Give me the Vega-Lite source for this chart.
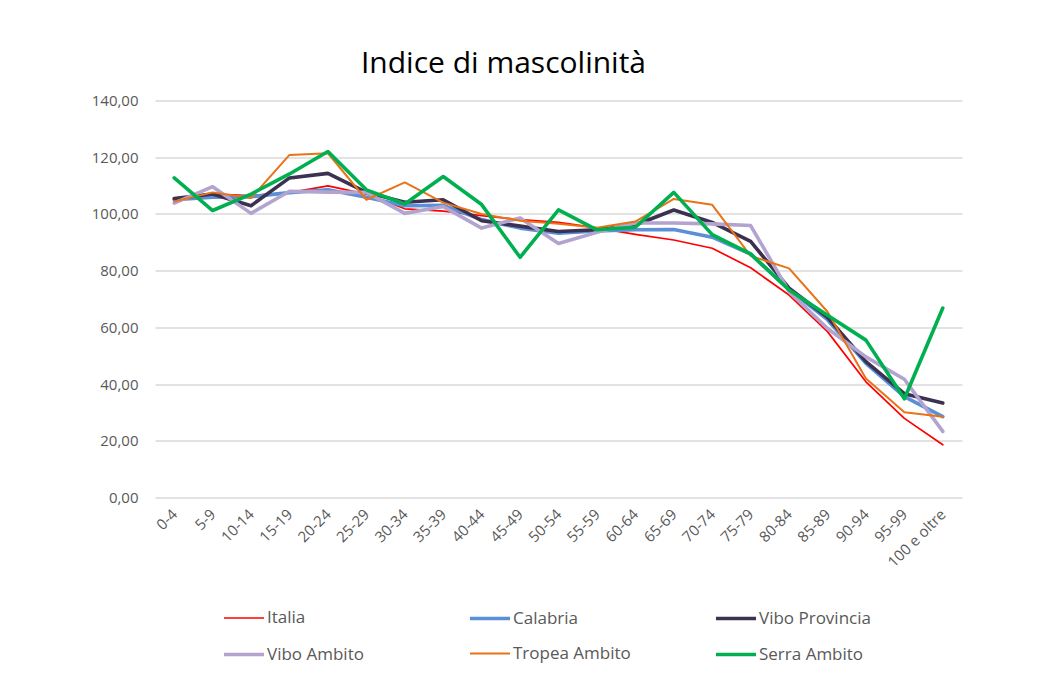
{
  "$schema": "https://vega.github.io/schema/vega-lite/v6.json",
  "autosize": {"type": "none"},
  "padding": {"left": 155, "top": 100.5, "right": 87, "bottom": 175},
  "width": 807,
  "height": 397,
  "background": "white",
  "title": {
    "text": "Indice di mascolinità",
    "font": "Open Sans",
    "fontSize": 30,
    "fontWeight": "normal",
    "color": "#000000",
    "anchor": "middle",
    "frame": "group",
    "dx": -55,
    "offset": 15
  },
  "config": {
    "view": {"stroke": null},
    "font": "Open Sans"
  },
  "datasets": {
    "d": [
      {"eta": "0-4", "serie": "Italia", "valore": 105.0},
      {"eta": "5-9", "serie": "Italia", "valore": 107.0},
      {"eta": "10-14", "serie": "Italia", "valore": 106.5},
      {"eta": "15-19", "serie": "Italia", "valore": 107.5},
      {"eta": "20-24", "serie": "Italia", "valore": 109.9},
      {"eta": "25-29", "serie": "Italia", "valore": 107.0},
      {"eta": "30-34", "serie": "Italia", "valore": 101.8},
      {"eta": "35-39", "serie": "Italia", "valore": 101.0},
      {"eta": "40-44", "serie": "Italia", "valore": 99.4},
      {"eta": "45-49", "serie": "Italia", "valore": 98.0},
      {"eta": "50-54", "serie": "Italia", "valore": 97.0},
      {"eta": "55-59", "serie": "Italia", "valore": 95.1},
      {"eta": "60-64", "serie": "Italia", "valore": 92.8},
      {"eta": "65-69", "serie": "Italia", "valore": 90.8},
      {"eta": "70-74", "serie": "Italia", "valore": 87.9},
      {"eta": "75-79", "serie": "Italia", "valore": 81.0},
      {"eta": "80-84", "serie": "Italia", "valore": 71.4},
      {"eta": "85-89", "serie": "Italia", "valore": 58.5},
      {"eta": "90-94", "serie": "Italia", "valore": 40.8},
      {"eta": "95-99", "serie": "Italia", "valore": 27.9},
      {"eta": "100 e oltre", "serie": "Italia", "valore": 18.6},

      {"eta": "0-4", "serie": "Calabria", "valore": 105.0},
      {"eta": "5-9", "serie": "Calabria", "valore": 105.9},
      {"eta": "10-14", "serie": "Calabria", "valore": 106.1},
      {"eta": "15-19", "serie": "Calabria", "valore": 107.5},
      {"eta": "20-24", "serie": "Calabria", "valore": 108.5},
      {"eta": "25-29", "serie": "Calabria", "valore": 105.9},
      {"eta": "30-34", "serie": "Calabria", "valore": 102.9},
      {"eta": "35-39", "serie": "Calabria", "valore": 103.0},
      {"eta": "40-44", "serie": "Calabria", "valore": 98.0},
      {"eta": "45-49", "serie": "Calabria", "valore": 95.0},
      {"eta": "50-54", "serie": "Calabria", "valore": 93.2},
      {"eta": "55-59", "serie": "Calabria", "valore": 94.0},
      {"eta": "60-64", "serie": "Calabria", "valore": 94.4},
      {"eta": "65-69", "serie": "Calabria", "valore": 94.5},
      {"eta": "70-74", "serie": "Calabria", "valore": 91.8},
      {"eta": "75-79", "serie": "Calabria", "valore": 85.8},
      {"eta": "80-84", "serie": "Calabria", "valore": 73.3},
      {"eta": "85-89", "serie": "Calabria", "valore": 62.7},
      {"eta": "90-94", "serie": "Calabria", "valore": 47.3},
      {"eta": "95-99", "serie": "Calabria", "valore": 35.6},
      {"eta": "100 e oltre", "serie": "Calabria", "valore": 28.5},

      {"eta": "0-4", "serie": "Vibo Provincia", "valore": 105.4},
      {"eta": "5-9", "serie": "Vibo Provincia", "valore": 107.0},
      {"eta": "10-14", "serie": "Vibo Provincia", "valore": 102.9},
      {"eta": "15-19", "serie": "Vibo Provincia", "valore": 112.7},
      {"eta": "20-24", "serie": "Vibo Provincia", "valore": 114.3},
      {"eta": "25-29", "serie": "Vibo Provincia", "valore": 107.6},
      {"eta": "30-34", "serie": "Vibo Provincia", "valore": 104.1},
      {"eta": "35-39", "serie": "Vibo Provincia", "valore": 105.0},
      {"eta": "40-44", "serie": "Vibo Provincia", "valore": 97.6},
      {"eta": "45-49", "serie": "Vibo Provincia", "valore": 95.7},
      {"eta": "50-54", "serie": "Vibo Provincia", "valore": 93.8},
      {"eta": "55-59", "serie": "Vibo Provincia", "valore": 94.4},
      {"eta": "60-64", "serie": "Vibo Provincia", "valore": 96.1},
      {"eta": "65-69", "serie": "Vibo Provincia", "valore": 101.4},
      {"eta": "70-74", "serie": "Vibo Provincia", "valore": 97.0},
      {"eta": "75-79", "serie": "Vibo Provincia", "valore": 90.3},
      {"eta": "80-84", "serie": "Vibo Provincia", "valore": 73.8},
      {"eta": "85-89", "serie": "Vibo Provincia", "valore": 63.5},
      {"eta": "90-94", "serie": "Vibo Provincia", "valore": 47.9},
      {"eta": "95-99", "serie": "Vibo Provincia", "valore": 36.6},
      {"eta": "100 e oltre", "serie": "Vibo Provincia", "valore": 33.3},

      {"eta": "0-4", "serie": "Vibo Ambito", "valore": 103.8},
      {"eta": "5-9", "serie": "Vibo Ambito", "valore": 109.6},
      {"eta": "10-14", "serie": "Vibo Ambito", "valore": 100.2},
      {"eta": "15-19", "serie": "Vibo Ambito", "valore": 108.0},
      {"eta": "20-24", "serie": "Vibo Ambito", "valore": 107.7},
      {"eta": "25-29", "serie": "Vibo Ambito", "valore": 107.6},
      {"eta": "30-34", "serie": "Vibo Ambito", "valore": 100.2},
      {"eta": "35-39", "serie": "Vibo Ambito", "valore": 102.6},
      {"eta": "40-44", "serie": "Vibo Ambito", "valore": 95.0},
      {"eta": "45-49", "serie": "Vibo Ambito", "valore": 98.6},
      {"eta": "50-54", "serie": "Vibo Ambito", "valore": 89.6},
      {"eta": "55-59", "serie": "Vibo Ambito", "valore": 93.5},
      {"eta": "60-64", "serie": "Vibo Ambito", "valore": 96.8},
      {"eta": "65-69", "serie": "Vibo Ambito", "valore": 96.8},
      {"eta": "70-74", "serie": "Vibo Ambito", "valore": 96.5},
      {"eta": "75-79", "serie": "Vibo Ambito", "valore": 95.9},
      {"eta": "80-84", "serie": "Vibo Ambito", "valore": 72.6},
      {"eta": "85-89", "serie": "Vibo Ambito", "valore": 59.6},
      {"eta": "90-94", "serie": "Vibo Ambito", "valore": 49.6},
      {"eta": "95-99", "serie": "Vibo Ambito", "valore": 41.7},
      {"eta": "100 e oltre", "serie": "Vibo Ambito", "valore": 23.3},

      {"eta": "0-4", "serie": "Tropea Ambito", "valore": 104.4},
      {"eta": "5-9", "serie": "Tropea Ambito", "valore": 107.6},
      {"eta": "10-14", "serie": "Tropea Ambito", "valore": 105.6},
      {"eta": "15-19", "serie": "Tropea Ambito", "valore": 120.8},
      {"eta": "20-24", "serie": "Tropea Ambito", "valore": 121.4},
      {"eta": "25-29", "serie": "Tropea Ambito", "valore": 105.0},
      {"eta": "30-34", "serie": "Tropea Ambito", "valore": 111.1},
      {"eta": "35-39", "serie": "Tropea Ambito", "valore": 104.0},
      {"eta": "40-44", "serie": "Tropea Ambito", "valore": 100.0},
      {"eta": "45-49", "serie": "Tropea Ambito", "valore": 97.6},
      {"eta": "50-54", "serie": "Tropea Ambito", "valore": 96.5},
      {"eta": "55-59", "serie": "Tropea Ambito", "valore": 95.1},
      {"eta": "60-64", "serie": "Tropea Ambito", "valore": 97.3},
      {"eta": "65-69", "serie": "Tropea Ambito", "valore": 105.3},
      {"eta": "70-74", "serie": "Tropea Ambito", "valore": 103.2},
      {"eta": "75-79", "serie": "Tropea Ambito", "valore": 85.2},
      {"eta": "80-84", "serie": "Tropea Ambito", "valore": 80.8},
      {"eta": "85-89", "serie": "Tropea Ambito", "valore": 65.5},
      {"eta": "90-94", "serie": "Tropea Ambito", "valore": 42.0},
      {"eta": "95-99", "serie": "Tropea Ambito", "valore": 30.1},
      {"eta": "100 e oltre", "serie": "Tropea Ambito", "valore": 28.5},

      {"eta": "0-4", "serie": "Serra Ambito", "valore": 112.7},
      {"eta": "5-9", "serie": "Serra Ambito", "valore": 101.2},
      {"eta": "10-14", "serie": "Serra Ambito", "valore": 107.0},
      {"eta": "15-19", "serie": "Serra Ambito", "valore": 114.1},
      {"eta": "20-24", "serie": "Serra Ambito", "valore": 122.0},
      {"eta": "25-29", "serie": "Serra Ambito", "valore": 108.5},
      {"eta": "30-34", "serie": "Serra Ambito", "valore": 103.5},
      {"eta": "35-39", "serie": "Serra Ambito", "valore": 113.2},
      {"eta": "40-44", "serie": "Serra Ambito", "valore": 103.3},
      {"eta": "45-49", "serie": "Serra Ambito", "valore": 84.7},
      {"eta": "50-54", "serie": "Serra Ambito", "valore": 101.4},
      {"eta": "55-59", "serie": "Serra Ambito", "valore": 94.4},
      {"eta": "60-64", "serie": "Serra Ambito", "valore": 95.3},
      {"eta": "65-69", "serie": "Serra Ambito", "valore": 107.6},
      {"eta": "70-74", "serie": "Serra Ambito", "valore": 92.7},
      {"eta": "75-79", "serie": "Serra Ambito", "valore": 85.9},
      {"eta": "80-84", "serie": "Serra Ambito", "valore": 73.2},
      {"eta": "85-89", "serie": "Serra Ambito", "valore": 64.3},
      {"eta": "90-94", "serie": "Serra Ambito", "valore": 55.5},
      {"eta": "95-99", "serie": "Serra Ambito", "valore": 34.8},
      {"eta": "100 e oltre", "serie": "Serra Ambito", "valore": 66.8}
    ]
  },
  "data": {"name": "d"},
  "mark": {"type": "line", "strokeJoin": "round", "strokeCap": "round"},
  "encoding": {
    "x": {
      "field": "eta",
      "type": "nominal",
      "sort": null,
      "title": null,
      "axis": {
        "labelAngle": -45,
        "labelAlign": "right",
        "labelBaseline": "middle",
        "labelPadding": 14,
        "labelFont": "Open Sans",
        "labelFontSize": 15,
        "labelColor": "#595959",
        "domain": false,
        "ticks": false,
        "grid": false
      }
    },
    "y": {
      "field": "valore",
      "type": "quantitative",
      "title": null,
      "scale": {"domain": [0, 140], "nice": false},
      "axis": {
        "values": [0, 20, 40, 60, 80, 100, 120, 140],
        "labelExpr": "replace(format(datum.value, '.2f'), '.', ',')",
        "labelFont": "Open Sans",
        "labelFontSize": 15,
        "labelColor": "#595959",
        "labelPadding": 17,
        "domain": false,
        "ticks": false,
        "grid": true,
        "gridColor": "#D9D9D9",
        "gridWidth": 1.3
      }
    },
    "color": {
      "field": "serie",
      "type": "nominal",
      "title": null,
      "scale": {
        "domain": ["Italia", "Calabria", "Vibo Provincia", "Vibo Ambito", "Tropea Ambito", "Serra Ambito"],
        "range": ["#FF0000", "#5B8FD6", "#3C3150", "#B3A3CF", "#E97316", "#00B050"]
      },
      "legend": {
        "orient": "none",
        "legendX": 67,
        "legendY": 496,
        "direction": "horizontal",
        "columns": 3,
        "gridAlign": "all",
        "columnPadding": 77,
        "rowPadding": 6,
        "symbolType": "stroke",
        "symbolSize": 1600,
        "labelFont": "Open Sans",
        "labelFontSize": 17,
        "labelColor": "#595959",
        "labelOffset": 1
      }
    },
    "strokeWidth": {
      "field": "serie",
      "type": "nominal",
      "scale": {
        "type": "ordinal",
        "domain": ["Italia", "Calabria", "Vibo Provincia", "Vibo Ambito", "Tropea Ambito", "Serra Ambito"],
        "range": [1.7, 3.6, 3.6, 3.6, 2.0, 3.6]
      },
      "legend": null
    }
  }
}
